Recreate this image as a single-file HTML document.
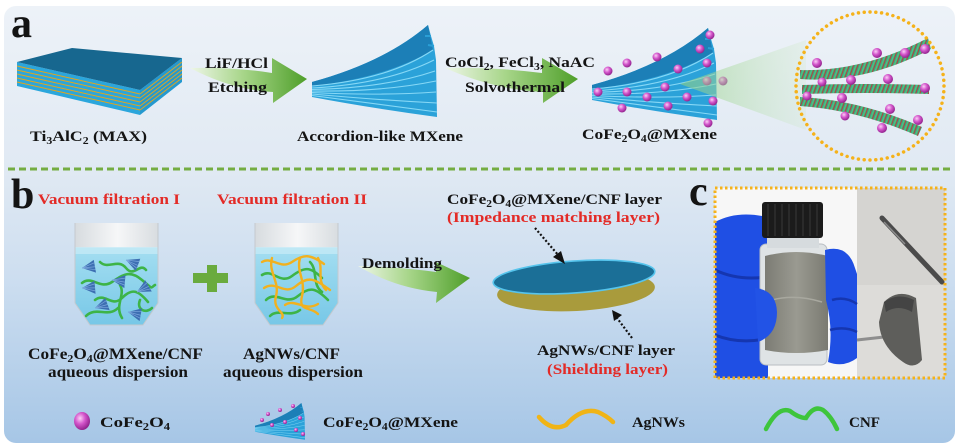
<!DOCTYPE html>
<html><head><meta charset="utf-8"><style>
html,body{margin:0;padding:0;background:#fff;width:963px;height:448px;overflow:hidden}
svg{display:block}
.t{font-family:"Liberation Serif",serif;font-weight:bold;fill:#141414}
.r{fill:#e32b27}
</style></head><body>
<svg width="963" height="448" viewBox="0 0 963 448" xmlns="http://www.w3.org/2000/svg">
<defs>
<linearGradient id="bg" x1="0" y1="0" x2="0" y2="1">
<stop offset="0" stop-color="#edf2f8"/><stop offset="0.38" stop-color="#e0e9f3"/><stop offset="0.62" stop-color="#cddef0"/><stop offset="1" stop-color="#a6c6e6"/>
</linearGradient>
<linearGradient id="arr" x1="0" y1="0" x2="1" y2="0">
<stop offset="0" stop-color="#eef6e8"/><stop offset="0.45" stop-color="#a8d68a"/><stop offset="1" stop-color="#4f9f2a"/>
</linearGradient>
<radialGradient id="sph" cx="0.38" cy="0.35" r="0.7">
<stop offset="0" stop-color="#fbd0f6"/><stop offset="0.45" stop-color="#d457cc"/><stop offset="1" stop-color="#8a1c86"/>
</radialGradient>
<linearGradient id="cone" x1="0" y1="0" x2="1" y2="0">
<stop offset="0" stop-color="#8fcf80" stop-opacity="0.6"/><stop offset="1" stop-color="#cfe9c8" stop-opacity="0.25"/>
</linearGradient>
<linearGradient id="glass" x1="0" y1="0" x2="1" y2="0">
<stop offset="0" stop-color="#d3d8dc"/><stop offset="0.5" stop-color="#f6f7f8"/><stop offset="1" stop-color="#d3d8dc"/>
</linearGradient>
<linearGradient id="water" x1="0" y1="0" x2="0" y2="1">
<stop offset="0" stop-color="#a4def1"/><stop offset="1" stop-color="#74c6e6"/>
</linearGradient>
<linearGradient id="film" x1="0" y1="0" x2="1" y2="0">
<stop offset="0" stop-color="#7c7c74"/><stop offset="0.5" stop-color="#9a9a91"/><stop offset="1" stop-color="#7a7a72"/>
</linearGradient>
<pattern id="hatch" patternUnits="userSpaceOnUse" width="4" height="4" patternTransform="rotate(20)">
<rect width="4" height="4" fill="#36a58a"/><rect width="0.9" height="4" fill="#c9372b"/><rect x="2.2" width="1" height="4" fill="#5fc873"/>
</pattern>
<clipPath id="b1clip"><path d="M75,223 L75,303 L90,325 L143,325 L158,303 L158,223 Z"/></clipPath>
<clipPath id="b2clip"><path d="M255,223 L255,303 L270,325 L323,325 L338,303 L338,223 Z"/></clipPath>
<clipPath id="photo"><rect x="715" y="188" width="230" height="190"/></clipPath>
<g id="fan">
<path d="M312,82 Q385,62 428,25 L431,36 L434,46 L436,60 L437,117 Q370,108 312,97 Z" fill="#2ba2d9"/>
<path d="M312,82 Q385,62 428,25 L433,50 Q385,78 312,86 Z" fill="#1c7fb7"/>
<g fill="none" stroke="#86d8f6" stroke-width="1.1">
<path d="M312,86 Q388,80 433,50"/><path d="M312,88 Q386,84 434,60"/><path d="M312,89.5 Q385,88 435,71"/>
<path d="M312,91 Q382,92 436,81"/><path d="M312,92.5 Q380,96 436,92"/><path d="M312,94 Q378,100 437,103"/>
<path d="M312,95.5 Q376,104 437,112"/>
</g>
<path d="M425,36 L431,36 M428,45 L434,46" stroke="#2a9fd6" stroke-width="2"/>
</g>
<g id="tri">
<path d="M0,0 L13,-6 L13,7 Z" fill="#3d6fb2"/>
<path d="M0,0 L13,-3 M0,0 L13,1 M0,0 L13,4" stroke="#7aa6dc" stroke-width="0.7"/>
</g>
</defs>

<!-- panel -->
<rect x="4" y="6" width="951" height="437" rx="12" fill="url(#bg)"/>
<line x1="8" y1="169" x2="952" y2="169" stroke="#74ad42" stroke-width="3" stroke-dasharray="7 4"/>

<!-- ===== a ===== -->
<text x="11" y="37" class="t" font-size="42">a</text>

<!-- MAX block -->
<polygon points="17,62 140,90 140,115 17,86" fill="#2ba6dc"/>
<polygon points="140,90 182,58 182,82 140,115" fill="#2599cf"/>
<g stroke="#e3a51c" stroke-width="1">
<line x1="17" y1="66" x2="140" y2="94"/><line x1="17" y1="70" x2="140" y2="98"/><line x1="17" y1="74" x2="140" y2="102"/><line x1="17" y1="78" x2="140" y2="106"/><line x1="17" y1="82" x2="140" y2="110"/>
<line x1="140" y1="94" x2="182" y2="62"/><line x1="140" y1="98" x2="182" y2="66"/><line x1="140" y1="102" x2="182" y2="70"/><line x1="140" y1="106" x2="182" y2="74"/><line x1="140" y1="110" x2="182" y2="78"/>
</g>
<polygon points="17,62 72,48 182,58 140,90" fill="#17678f"/>
<text x="30" y="141" class="t" font-size="15" textLength="117" lengthAdjust="spacingAndGlyphs">Ti<tspan font-size="10" dy="3">3</tspan><tspan dy="-3">AlC</tspan><tspan font-size="10" dy="3">2</tspan><tspan dy="-3"> (MAX)</tspan></text>

<!-- arrow 1 -->
<path d="M190,68 Q235,67 272,73 L272,58 L307,79 L273,103 L273,92 Q232,90 190,68 Z" fill="url(#arr)"/>
<text x="205" y="68" class="t" font-size="15" textLength="63" lengthAdjust="spacingAndGlyphs">LiF/HCl</text>
<text x="208" y="92" class="t" font-size="15" textLength="59" lengthAdjust="spacingAndGlyphs">Etching</text>

<!-- accordion -->
<use href="#fan"/>
<text x="297" y="141" class="t" font-size="15" textLength="166" lengthAdjust="spacingAndGlyphs">Accordion-like MXene</text>

<!-- arrow 2 -->
<path d="M445,68 Q495,67 542,73 L542,58 L578,79 L543,103 L543,92 Q495,90 445,68 Z" fill="url(#arr)"/>
<text x="445" y="67" class="t" font-size="15" textLength="150" lengthAdjust="spacingAndGlyphs">CoCl<tspan font-size="10" dy="3">2</tspan><tspan dy="-3">, FeCl</tspan><tspan font-size="10" dy="3">3</tspan><tspan dy="-3">, NaAC</tspan></text>
<text x="465" y="92" class="t" font-size="15" textLength="100" lengthAdjust="spacingAndGlyphs">Solvothermal</text>

<!-- CoFe2O4@MXene fan -->
<use href="#fan" transform="translate(280,3)"/>
<g fill="url(#sph)">
<circle cx="710" cy="35" r="4.5"/><circle cx="700" cy="49" r="4.5"/><circle cx="707" cy="63" r="4.5"/><circle cx="678" cy="69" r="4.5"/>
<circle cx="657" cy="57" r="4.5"/><circle cx="627" cy="63" r="4.5"/><circle cx="608" cy="71" r="4.5"/><circle cx="598" cy="92" r="4.5"/>
<circle cx="627" cy="92" r="4.5"/><circle cx="647" cy="97" r="4.5"/><circle cx="665" cy="87" r="4.5"/><circle cx="687" cy="97" r="4.5"/>
<circle cx="713" cy="101" r="4.5"/><circle cx="668" cy="106" r="4.5"/><circle cx="622" cy="108" r="4.5"/><circle cx="708" cy="123" r="4.5"/>
<circle cx="707" cy="81" r="4.5"/><circle cx="723" cy="81" r="4.5"/>
</g>
<polygon points="680,84 806,40 806,130" fill="url(#cone)"/>
<text x="582" y="139" class="t" font-size="15" textLength="135" lengthAdjust="spacingAndGlyphs">CoFe<tspan font-size="10" dy="3">2</tspan><tspan dy="-3">O</tspan><tspan font-size="10" dy="3">4</tspan><tspan dy="-3">@MXene</tspan></text>

<!-- inset circle -->
<path d="M800,70 Q862,72 928,38 L931,49 Q864,84 800,79 Z" fill="url(#hatch)"/>
<path d="M802,85 Q865,83 929,85 L929,94 Q865,92 802,94 Z" fill="url(#hatch)"/>
<path d="M800,97 Q860,100 922,127 L918,136 Q858,110 800,106 Z" fill="url(#hatch)"/>
<g fill="url(#sph)">
<circle cx="817" cy="63" r="5"/><circle cx="877" cy="53" r="5"/><circle cx="905" cy="53" r="5"/><circle cx="925" cy="49" r="5"/>
<circle cx="822" cy="82" r="4.5"/><circle cx="851" cy="80" r="5"/><circle cx="888" cy="79" r="5"/><circle cx="925" cy="88" r="5"/>
<circle cx="807" cy="96" r="4.5"/><circle cx="842" cy="98" r="5"/><circle cx="890" cy="109" r="5"/><circle cx="845" cy="116" r="4.5"/>
<circle cx="882" cy="128" r="5"/><circle cx="918" cy="120" r="5"/>
</g>
<circle cx="870" cy="86" r="74" fill="none" stroke="#f5b21a" stroke-width="3.5" stroke-linecap="round" stroke-dasharray="0.01 5.8"/>

<!-- ===== b ===== -->
<text x="11" y="208" class="t" font-size="42">b</text>
<text x="38" y="204" class="t r" font-size="15" textLength="142" lengthAdjust="spacingAndGlyphs">Vacuum filtration I</text>
<text x="217" y="204" class="t r" font-size="15" textLength="150" lengthAdjust="spacingAndGlyphs">Vacuum filtration II</text>

<!-- beaker 1 -->
<g clip-path="url(#b1clip)">
<rect x="70" y="220" width="95" height="110" fill="url(#glass)"/>
<rect x="70" y="248" width="95" height="82" fill="url(#water)"/>
<rect x="70" y="247" width="95" height="7" fill="#c4eaf6" opacity="0.8"/>
<g fill="none" stroke="#3db447" stroke-width="2.6" stroke-linecap="round">
<path d="M82,283 C92,275 100,290 112,282 S130,270 142,280 S150,288 155,285"/>
<path d="M95,300 C105,292 112,308 122,298 S138,290 148,302"/>
<path d="M100,262 C108,270 118,258 126,268 S140,262 146,270"/>
<path d="M86,316 C96,306 108,318 118,308"/>
<path d="M120,285 C126,295 114,305 122,318"/>
<path d="M140,300 C136,310 146,314 152,308"/>
</g>
<use href="#tri" transform="translate(82,268) rotate(-10)"/>
<use href="#tri" transform="translate(126,260) rotate(20)"/>
<use href="#tri" transform="translate(112,280) rotate(5)"/>
<use href="#tri" transform="translate(82,288) rotate(-5)"/>
<use href="#tri" transform="translate(137,292) rotate(-30)"/>
<use href="#tri" transform="translate(95,308) rotate(-20)"/>
<use href="#tri" transform="translate(128,312) rotate(10)"/>
</g>
<path d="M75,223 L75,303 L90,325 L143,325 L158,303 L158,223" fill="none" stroke="#c4c9ce" stroke-width="1"/>

<!-- plus -->
<rect x="207" y="265" width="10" height="27" fill="#6aab3e"/>
<rect x="193" y="273" width="35" height="10" fill="#6aab3e"/>

<!-- beaker 2 -->
<g clip-path="url(#b2clip)">
<rect x="250" y="220" width="95" height="110" fill="url(#glass)"/>
<rect x="250" y="248" width="95" height="82" fill="url(#water)"/>
<rect x="250" y="247" width="95" height="7" fill="#c4eaf6" opacity="0.8"/>
<g fill="none" stroke="#3db447" stroke-width="2.6" stroke-linecap="round">
<path d="M262,275 C272,268 280,285 292,276 S310,266 322,278"/>
<path d="M266,300 C276,290 286,306 298,296 S316,288 328,300"/>
<path d="M270,316 C278,308 290,318 300,310"/>
<path d="M310,262 C318,270 312,285 322,292"/>
</g>
<g fill="none" stroke="#f1b11f" stroke-width="2.4" stroke-linecap="round">
<path d="M262,262 C272,256 280,270 292,262 S310,254 324,264"/>
<path d="M264,288 C276,280 284,296 296,286 S314,278 330,290"/>
<path d="M272,258 C268,272 280,282 276,296 S286,312 282,318"/>
<path d="M300,258 C296,272 306,280 302,296 S310,306 318,314"/>
<path d="M285,305 C295,298 305,312 318,304"/>
<path d="M318,258 C324,268 316,280 326,290"/>
</g>
</g>
<path d="M255,223 L255,303 L270,325 L323,325 L338,303 L338,223" fill="none" stroke="#c4c9ce" stroke-width="1"/>

<text x="28" y="359" class="t" font-size="16" textLength="175" lengthAdjust="spacingAndGlyphs">CoFe<tspan font-size="11" dy="3">2</tspan><tspan dy="-3">O</tspan><tspan font-size="11" dy="3">4</tspan><tspan dy="-3">@MXene/CNF</tspan></text>
<text x="48" y="377" class="t" font-size="16" textLength="140" lengthAdjust="spacingAndGlyphs">aqueous dispersion</text>
<text x="243" y="359" class="t" font-size="16" textLength="97" lengthAdjust="spacingAndGlyphs">AgNWs/CNF</text>
<text x="223" y="377" class="t" font-size="16" textLength="140" lengthAdjust="spacingAndGlyphs">aqueous dispersion</text>

<!-- arrow 3 -->
<path d="M358,266 Q400,267 436,272 L436,262 L470,278 L436,303 L437,292 Q395,288 358,266 Z" fill="url(#arr)"/>
<text x="362" y="268" class="t" font-size="15" textLength="80" lengthAdjust="spacingAndGlyphs">Demolding</text>

<!-- disc -->
<ellipse cx="576" cy="291" rx="79" ry="20" fill="#a99b3c" transform="rotate(-3 576 291)"/>
<ellipse cx="574" cy="277" rx="81" ry="16" fill="#1b6f97" stroke="#56c4ec" stroke-width="1.6" transform="rotate(-4 574 277)"/>
<text x="447" y="204" class="t" font-size="15" textLength="215" lengthAdjust="spacingAndGlyphs">CoFe<tspan font-size="10" dy="3">2</tspan><tspan dy="-3">O</tspan><tspan font-size="10" dy="3">4</tspan><tspan dy="-3">@MXene/CNF layer</tspan></text>
<text x="447" y="222" class="t r" font-size="15" textLength="213" lengthAdjust="spacingAndGlyphs">(Impedance matching layer)</text>
<line x1="535" y1="228" x2="559" y2="256" stroke="#111" stroke-width="2.2" stroke-dasharray="2 2"/>
<polygon points="565,264 553,257 561,251" fill="#111"/>
<line x1="632" y1="338" x2="617" y2="318" stroke="#111" stroke-width="2.2" stroke-dasharray="2 2"/>
<polygon points="612,310 622,315 614,321" fill="#111"/>
<text x="537" y="355" class="t" font-size="15" textLength="138" lengthAdjust="spacingAndGlyphs">AgNWs/CNF layer</text>
<text x="547" y="374" class="t r" font-size="15" textLength="121" lengthAdjust="spacingAndGlyphs">(Shielding layer)</text>

<!-- ===== c ===== -->
<text x="689" y="205" class="t" font-size="42">c</text>
<g clip-path="url(#photo)">
<rect x="715" y="188" width="142" height="190" fill="#f7f7f7"/>
<rect x="857" y="188" width="88" height="97" fill="#d5d4d1"/>
<rect x="857" y="285" width="88" height="93" fill="#dddcd9"/>
<!-- glove left -->
<path d="M715,222 Q745,206 788,224 Q802,244 792,262 Q774,272 776,290 Q784,302 781,322 Q778,342 768,350 L768,378 L715,378 Z" fill="#1f4fe4"/>
<path d="M715,270 Q740,282 772,276 M715,335 Q740,345 770,338" stroke="#1536b0" stroke-width="3" fill="none"/>
<!-- vial -->
<rect x="760" y="244" width="67" height="121" rx="6" fill="#dfe3e5" stroke="#b9bec2" stroke-width="1"/>
<rect x="767" y="236" width="52" height="12" fill="#d6dbde"/>
<path d="M765,256 Q796,248 828,256 L828,350 Q796,356 765,350 Z" fill="url(#film)"/>
<path d="M772,300 Q795,294 822,302" stroke="#a8a89f" stroke-width="1.5" fill="none"/>
<rect x="762" y="202" width="61" height="36" rx="3" fill="#1b1b1b"/>
<g stroke="#3a3a3a" stroke-width="1"><line x1="768" y1="204" x2="768" y2="236"/><line x1="775" y1="204" x2="775" y2="236"/><line x1="782" y1="204" x2="782" y2="236"/><line x1="789" y1="204" x2="789" y2="236"/><line x1="796" y1="204" x2="796" y2="236"/><line x1="803" y1="204" x2="803" y2="236"/><line x1="810" y1="204" x2="810" y2="236"/><line x1="817" y1="204" x2="817" y2="236"/></g>
<!-- finger over vial -->
<path d="M755,288 Q776,290 777,312 Q777,335 758,342 Z" fill="#2253e6"/>
<!-- glove right -->
<path d="M825,250 Q848,244 855,268 L857,274 L857,358 Q844,368 828,362 Q834,330 826,300 Z" fill="#1f4fe4"/>
<path d="M832,300 Q845,296 857,304 M830,330 Q845,326 857,332" stroke="#1536b0" stroke-width="2.5" fill="none"/>
<!-- pen -->
<line x1="882" y1="218" x2="942" y2="282" stroke="#4b4b4b" stroke-width="5" stroke-linecap="round"/>
<line x1="884" y1="222" x2="905" y2="244" stroke="#8c8c8c" stroke-width="1.5"/>
<!-- rolled film -->
<line x1="857" y1="340" x2="884" y2="337" stroke="#8e8e8e" stroke-width="3"/>
<path d="M884,302 Q898,288 916,298 L922,360 Q914,370 903,362 Q880,346 879,322 Z" fill="#5e5e5b"/>
<path d="M884,302 Q898,292 914,300 L912,312 Q898,304 886,312 Z" fill="#444"/>
</g>
<rect x="715" y="188" width="230" height="190" fill="none" stroke="#f5b21a" stroke-width="3" stroke-dasharray="2.5 2.5"/>

<!-- ===== legend ===== -->
<ellipse cx="82" cy="421" rx="8" ry="9" fill="url(#sph)"/>
<text x="100" y="427" class="t" font-size="15" textLength="70" lengthAdjust="spacingAndGlyphs">CoFe<tspan font-size="10" dy="3">2</tspan><tspan dy="-3">O</tspan><tspan font-size="10" dy="3">4</tspan></text>
<g transform="translate(130.2,393) scale(0.4)"><use href="#fan"/></g>
<g fill="url(#sph)">
<circle cx="268" cy="414" r="2"/><circle cx="280" cy="410" r="2"/><circle cx="293" cy="406" r="2"/><circle cx="300" cy="418" r="2"/>
<circle cx="285" cy="422" r="2"/><circle cx="272" cy="425" r="2"/><circle cx="296" cy="430" r="2"/><circle cx="262" cy="420" r="2"/><circle cx="303" cy="434" r="2"/>
</g>
<text x="323" y="427" class="t" font-size="15" textLength="135" lengthAdjust="spacingAndGlyphs">CoFe<tspan font-size="10" dy="3">2</tspan><tspan dy="-3">O</tspan><tspan font-size="10" dy="3">4</tspan><tspan dy="-3">@MXene</tspan></text>
<path d="M539,417 Q552,432 566,425 Q582,407 598,412 Q607,416 613,422" fill="none" stroke="#f0b416" stroke-width="4.5" stroke-linecap="round"/>
<text x="632" y="427" class="t" font-size="15" textLength="53" lengthAdjust="spacingAndGlyphs">AgNWs</text>
<path d="M766,429 Q778,406 790,411 Q799,418 806,418 Q814,405 823,410 Q831,416 837,429" fill="none" stroke="#3ec53c" stroke-width="4.5" stroke-linecap="round"/>
<text x="849" y="427" class="t" font-size="15" textLength="31" lengthAdjust="spacingAndGlyphs">CNF</text>
</svg>
</body></html>
